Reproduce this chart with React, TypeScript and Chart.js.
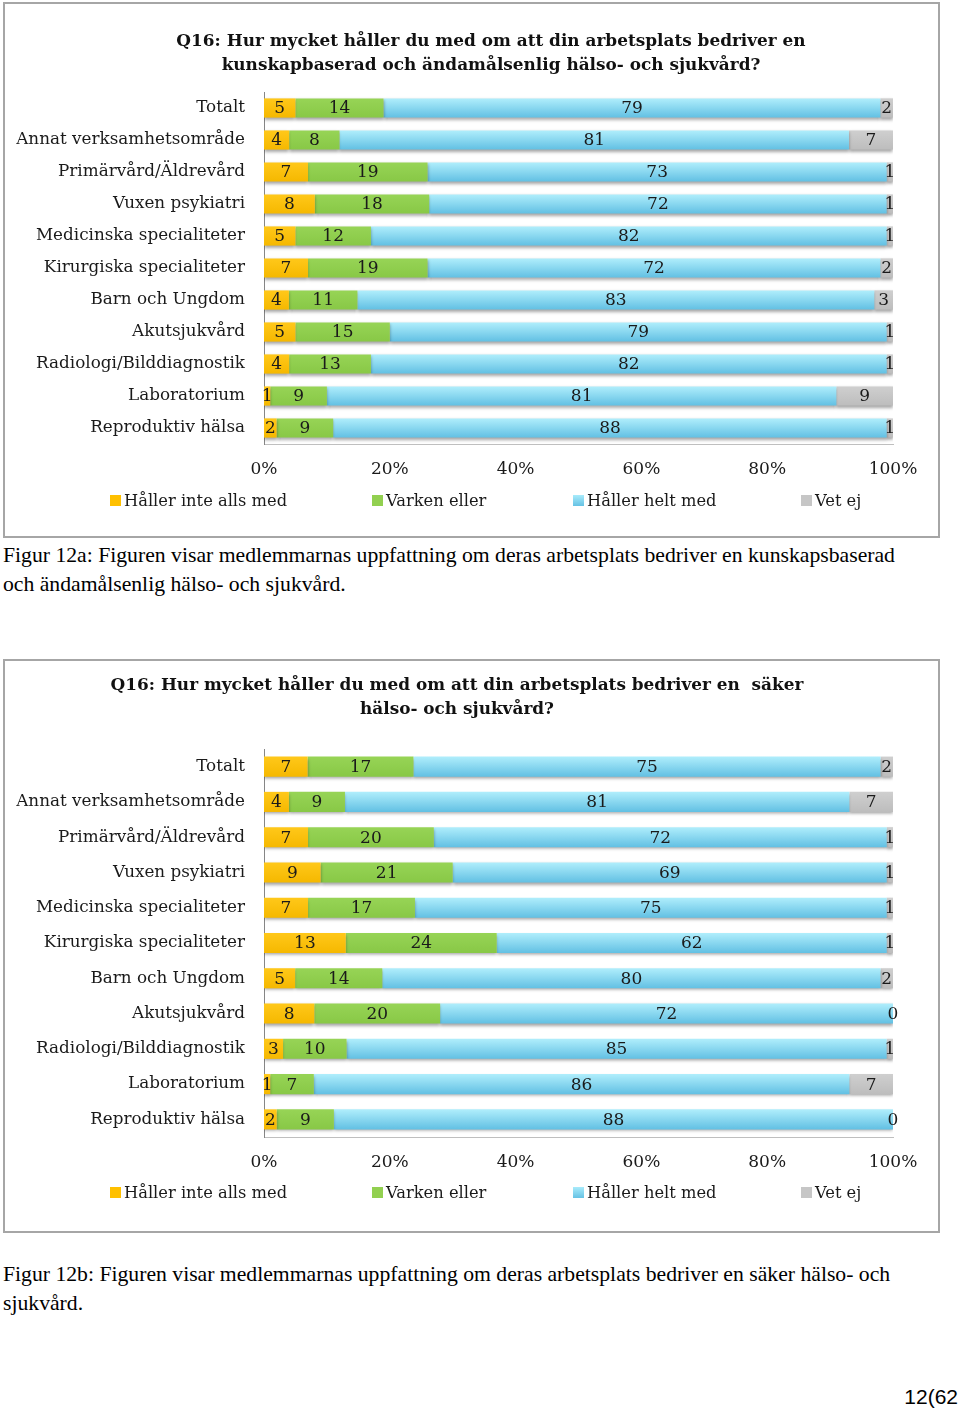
import React, { useEffect, useRef } from "react";
import { Chart, registerables } from "chart.js";
Chart.register(...registerables);

const categories = [
  "Totalt",
  "Annat verksamhetsområde",
  "Primärvård/Äldrevård",
  "Vuxen psykiatri",
  "Medicinska specialiteter",
  "Kirurgiska specialiteter",
  "Barn och Ungdom",
  "Akutsjukvård",
  "Radiologi/Bilddiagnostik",
  "Laboratorium",
  "Reproduktiv hälsa",
];
const seriesNames = ["Håller inte alls med", "Varken eller", "Håller helt med", "Vet ej"];
const tickLabels = ["0%", "20%", "40%", "60%", "80%", "100%"];

// Figur 12a
const aInte = [5, 4, 7, 8, 5, 7, 4, 5, 4, 1, 2];
const aVarken = [14, 8, 19, 18, 12, 19, 11, 15, 13, 9, 9];
const aHelt = [79, 81, 73, 72, 82, 72, 83, 79, 82, 81, 88];
const aVetEj = [2, 7, 1, 1, 1, 2, 3, 1, 1, 9, 1];

// Figur 12b
const bInte = [7, 4, 7, 9, 7, 13, 5, 8, 3, 1, 2];
const bVarken = [17, 9, 20, 21, 17, 24, 14, 20, 10, 7, 9];
const bHelt = [75, 81, 72, 69, 75, 62, 80, 72, 85, 86, 88];
const bVetEj = [2, 7, 1, 1, 1, 1, 2, 0, 1, 7, 0];

const flatColors = ["#ffc000", "#92d050", "#86d6f0", "#c6c6c6"];
const topColors = ["#ffc81a", "#97d456", "#b0eefc", "#cfcfcf"];
const botColors = ["#f5b800", "#88c846", "#62c0e3", "#bdbdbd"];

const FONT = "'DejaVu Serif', serif";

function BarChart(props: {
  series: number[][];
  width: number;
  height: number;
  padTop: number;
  padBottom: number;
  barPct: number;
}) {
  const ref = useRef<HTMLCanvasElement>(null);
  useEffect(() => {
    const raw = props.series;
    const totals = categories.map((_, i) => raw.reduce((s, arr) => s + arr[i], 0));
    const barPct = props.barPct;
    const datasets = raw.map((arr, k) => ({
      label: seriesNames[k],
      data: arr.map((v, i) => (v / totals[i]) * 100),
      borderWidth: 0,
      barPercentage: barPct,
      categoryPercentage: 1,
      backgroundColor: (ctx: any) => {
        const c = ctx.chart;
        const ys = c.scales && c.scales.y;
        if (ctx.type !== "data" || !ys || !c.chartArea) return flatColors[k];
        const center = ys.getPixelForValue(ctx.dataIndex);
        const band = (c.chartArea.bottom - c.chartArea.top) / categories.length;
        const h = band * barPct;
        const g = c.ctx.createLinearGradient(0, center - h / 2, 0, center + h / 2);
        g.addColorStop(0, topColors[k]);
        g.addColorStop(1, botColors[k]);
        return g;
      },
    }));
    const segPlugin = {
      id: "segLabels",
      beforeDatasetsDraw(chart: any) {
        const c = chart.ctx;
        c.save();
        c.shadowColor = "rgba(0,0,0,0.35)";
        c.shadowBlur = 3;
        c.shadowOffsetY = 2;
      },
      afterDatasetsDraw(chart: any) {
        const c = chart.ctx;
        c.restore();
        c.save();
        c.font = "17px " + FONT;
        c.fillStyle = "#1a1a1a";
        c.textAlign = "center";
        c.textBaseline = "middle";
        raw.forEach((arr, k) => {
          const meta = chart.getDatasetMeta(k);
          meta.data.forEach((el: any, i: number) => {
            const x = (el.x + el.base) / 2;
            c.fillText(String(arr[i]), x, el.y + 1);
          });
        });
        c.restore();
      },
    };
    const chart = new Chart(ref.current!, {
      type: "bar",
      data: { labels: categories, datasets },
      options: {
        indexAxis: "y",
        responsive: false,
        animation: false,
        layout: { padding: { left: 0, right: 45, top: props.padTop, bottom: props.padBottom } },
        plugins: { legend: { display: false }, tooltip: { enabled: false }, title: { display: false } },
        scales: {
          x: {
            stacked: true,
            min: 0,
            max: 100,
            ticks: {
              stepSize: 20,
              callback: (v: any) => tickLabels[Math.round(Number(v) / 20)],
              font: { family: FONT, size: 17 },
              color: "#1a1a1a",
              padding: 15,
              maxRotation: 0,
            },
            grid: { display: false, drawTicks: false },
            border: { display: true, color: "#bfbfbf", width: 1 },
            afterFit: (s: any) => {
              s.height = 40;
            },
          },
          y: {
            stacked: true,
            ticks: { font: { family: FONT, size: 16.8 }, color: "#1a1a1a", padding: 19, autoSkip: false },
            grid: { display: false, drawTicks: false },
            border: { display: true, color: "#868686", width: 1 },
            afterFit: (s: any) => {
              s.width = 259;
            },
          },
        },
      },
      plugins: [segPlugin],
    } as any);
    return () => chart.destroy();
  }, []);
  return <canvas ref={ref} width={props.width} height={props.height} style={{ display: "block" }} />;
}

function Legend(props: { top: number }) {
  const xs = [110, 372, 573, 801];
  return (
    <>
      {seriesNames.map((n, k) => (
        <div
          key={n}
          style={{
            position: "absolute",
            left: xs[k],
            top: props.top - 12,
            height: 24,
            display: "flex",
            alignItems: "center",
            fontFamily: FONT,
            fontSize: 16.3,
            color: "#1a1a1a",
            whiteSpace: "pre",
          }}
        >
          <span
            style={{
              display: "inline-block",
              width: 11,
              height: 11,
              marginRight: 3,
              background: k === 2 ? "linear-gradient(#a8ebfb,#66c2e4)" : flatColors[k],
            }}
          />
          {n}
        </div>
      ))}
    </>
  );
}

function Title(props: { lines: string[]; center: number; top: number }) {
  return (
    <div
      style={{
        position: "absolute",
        left: props.center - 480,
        width: 960,
        top: props.top,
        textAlign: "center",
        fontFamily: FONT,
        fontWeight: "bold",
        fontSize: 16.9,
        lineHeight: "24px",
        color: "#111",
        whiteSpace: "pre",
      }}
    >
      {props.lines.map((l) => (
        <div key={l}>{l}</div>
      ))}
    </div>
  );
}

function Caption(props: { lines: string[]; top: number }) {
  return (
    <div
      style={{
        position: "absolute",
        left: 3,
        top: props.top,
        fontFamily: "'Liberation Serif', serif",
        fontSize: 21.7,
        lineHeight: "29px",
        color: "#000",
        whiteSpace: "pre",
      }}
    >
      {props.lines.map((l) => (
        <div key={l}>{l}</div>
      ))}
    </div>
  );
}

export default function App() {
  return (
    <div style={{ position: "absolute", left: 0, top: 0, width: 960, height: 1410, background: "#fff", overflow: "hidden" }}>
      <div
        style={{
          position: "absolute",
          left: 3,
          top: 2,
          width: 937,
          height: 536,
          border: "2px solid #a6a6a6",
          boxSizing: "border-box",
        }}
      />
      <div style={{ position: "absolute", left: 5, top: 5 }}>
        <BarChart series={[aInte, aVarken, aHelt, aVetEj]} width={933} height={531} padTop={87} padBottom={52} barPct={0.6} />
      </div>
      <Title
        lines={["Q16: Hur mycket håller du med om att din arbetsplats bedriver en", "kunskapbaserad och ändamålsenlig hälso- och sjukvård?"]}
        center={491}
        top={28}
      />
      <Legend top={500} />
      <Caption
        lines={[
          "Figur 12a: Figuren visar medlemmarnas uppfattning om deras arbetsplats bedriver en kunskapsbaserad",
          "och ändamålsenlig hälso- och sjukvård.",
        ]}
        top={541}
      />

      <div
        style={{
          position: "absolute",
          left: 3,
          top: 659,
          width: 937,
          height: 574,
          border: "2px solid #a6a6a6",
          boxSizing: "border-box",
        }}
      />
      <div style={{ position: "absolute", left: 5, top: 662 }}>
        <BarChart series={[bInte, bVarken, bHelt, bVetEj]} width={933} height={569} padTop={87} padBottom={54} barPct={0.57} />
      </div>
      <Title
        lines={["Q16: Hur mycket håller du med om att din arbetsplats bedriver en  säker", "hälso- och sjukvård?"]}
        center={457}
        top={672}
      />
      <Legend top={1192} />
      <Caption
        lines={[
          "Figur 12b: Figuren visar medlemmarnas uppfattning om deras arbetsplats bedriver en säker hälso- och",
          "sjukvård.",
        ]}
        top={1260}
      />
      <div
        style={{
          position: "absolute",
          right: 2,
          top: 1384,
          fontFamily: "'Liberation Sans', sans-serif",
          fontSize: 21,
          lineHeight: "26px",
          color: "#000",
        }}
      >
        12(62
      </div>
    </div>
  );
}
